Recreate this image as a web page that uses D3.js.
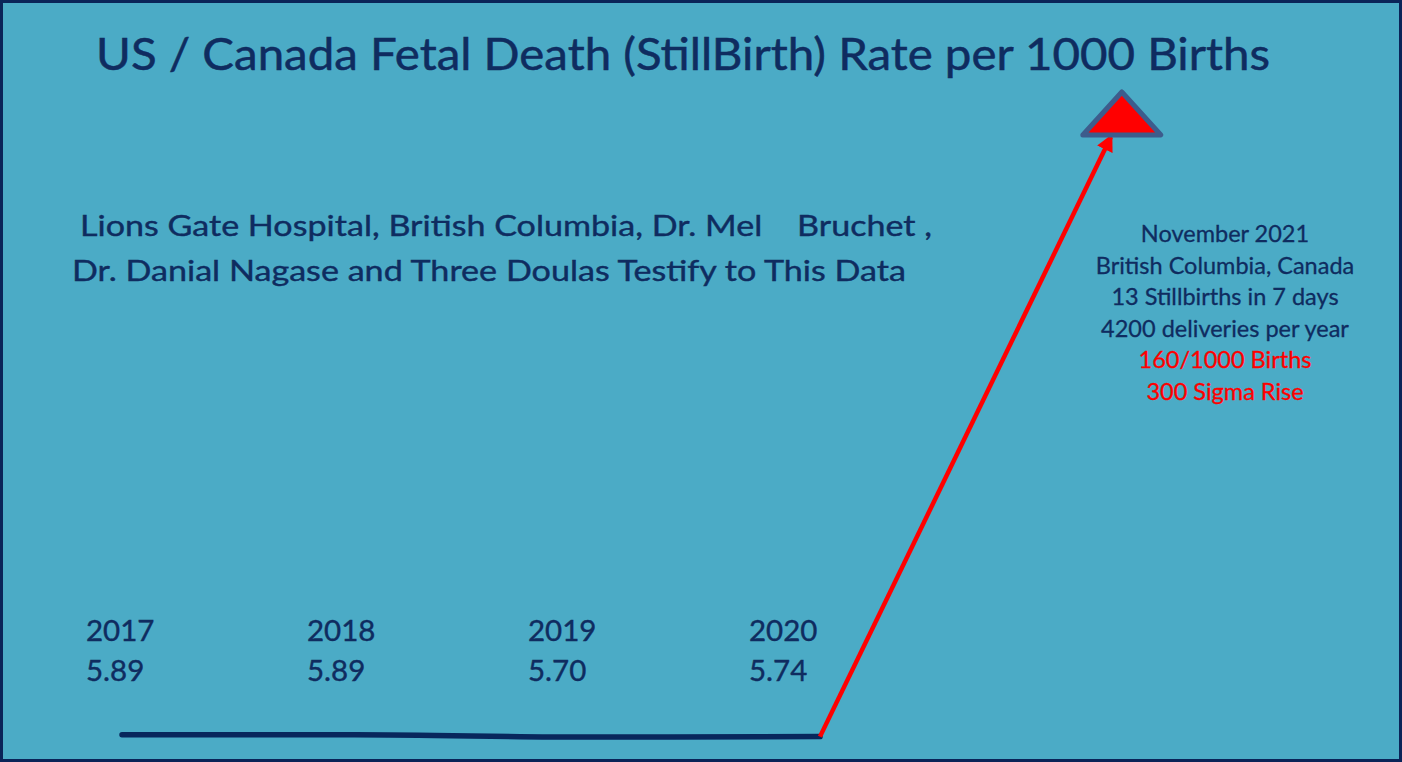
<!DOCTYPE html>
<html>
<head>
<meta charset="utf-8">
<script src="https://cdn.jsdelivr.net/npm/d3@7"></script>
<style>
  html, body { margin: 0; padding: 0; background: #4babc6; }
  svg { display: block; font-family: Lato, "Open Sans", sans-serif; }
</style>
</head>
<body>
<div id="chart"></div>
<script>
// data
const years = [2017, 2018, 2019, 2020];
const rates = [5.89, 5.89, 5.70, 5.74];
const rateLabels = ['5.89', '5.89', '5.70', '5.74'];
const spikeYear = 2021.25;   // where the arrow lands (Nov 2021, drawn schematically)
const spikeRate = 160;
const noteLines = ['November 2021', 'British Columbia, Canada', '13 Stillbirths in 7 days', '4200 deliveries per year'];
const redLines = ['160/1000 Births', '300 Sigma Rise'];

const width = 1402, height = 762;
const navy = '#0f2c60';

const svg = d3.select('#chart')
    .append('svg')
    .attr('width', width)
    .attr('height', height);

svg.append('rect')
    .attr('x', 1.5).attr('y', 1.5)
    .attr('width', width - 3).attr('height', height - 3)
    .attr('fill', '#4babc6')
    .attr('stroke', '#0a2458')
    .attr('stroke-width', 3);

// title
svg.append('text')
    .attr('x', 96).attr('y', 70)
    .attr('fill', navy)
    .attr('stroke', navy).attr('stroke-width', 0.5)
    .attr('font-size', 44)
    .attr('textLength', 1174)
    .attr('lengthAdjust', 'spacingAndGlyphs')
    .text('US / Canada Fetal Death (StillBirth) Rate per 1000 Births');

// source text
const src = svg.append('g')
    .attr('fill', navy)
    .attr('stroke', navy).attr('stroke-width', 0.4)
    .attr('font-size', 29);
src.append('text')
    .attr('x', 80).attr('y', 236)
    .attr('textLength', 852)
    .attr('lengthAdjust', 'spacingAndGlyphs')
    .attr('xml:space', 'preserve')
    .text('Lions Gate Hospital, British Columbia, Dr. Mel    Bruchet ,');
src.append('text')
    .attr('x', 72).attr('y', 281)
    .attr('textLength', 834)
    .attr('lengthAdjust', 'spacingAndGlyphs')
    .text('Dr. Danial Nagase and Three Doulas Testify to This Data');

// scales: the base years sit almost flat, the spike is far up the same axis
const x = d3.scaleLinear()
    .domain([2017, 2020])
    .range([122, 820]);
const y = d3.scaleLinear()
    .domain([5.5, 6.0, 160])
    .range([739.5, 733.5, 137]);
const labelX = d3.scalePoint()
    .domain(years)
    .range([86, 749]);

const base = years.map((yr, i) => ({ year: yr, rate: rates[i] }));

// year / value labels
const lab = svg.append('g')
    .attr('fill', navy)
    .attr('stroke', navy).attr('stroke-width', 0.4)
    .attr('font-size', 29.5);
lab.selectAll('text.yr')
    .data(base)
    .join('text')
    .attr('class', 'yr')
    .attr('x', d => labelX(d.year))
    .attr('y', 641)
    .text(d => d.year);
lab.selectAll('text.val')
    .data(base)
    .join('text')
    .attr('class', 'val')
    .attr('x', d => labelX(d.year))
    .attr('y', 681)
    .text((d, i) => rateLabels[i]);

// flat line for 2017-2020
svg.append('path')
    .datum(base)
    .attr('fill', 'none')
    .attr('stroke', '#08275c')
    .attr('stroke-width', 5.5)
    .attr('stroke-linecap', 'round')
    .attr('d', d3.line()
        .x(d => x(d.year))
        .y(d => y(d.rate))
        .curve(d3.curveMonotoneX));

// red arrow up to the 2021 spike
svg.append('defs').append('marker')
    .attr('id', 'head')
    .attr('viewBox', '0 0 10 10')
    .attr('refX', 8).attr('refY', 5)
    .attr('markerWidth', 3.8).attr('markerHeight', 3.8)
    .attr('orient', 'auto')
    .append('path')
    .attr('d', 'M0,0 L10,5 L0,10 z')
    .attr('fill', '#ff0000');

const last = base[base.length - 1];
svg.append('line')
    .attr('x1', x(last.year)).attr('y1', y(last.rate))
    .attr('x2', x(spikeYear)).attr('y2', y(spikeRate))
    .attr('stroke', '#ff0000')
    .attr('stroke-width', 4.5)
    .attr('marker-end', 'url(#head)');

// triangle sitting on the spike
const tx = x(spikeYear) + 11, ty = y(spikeRate) - 2;
svg.append('path')
    .attr('d', `M${tx - 39},${ty} L${tx},${ty - 43} L${tx + 39},${ty} Z`)
    .attr('fill', '#ff0000')
    .attr('stroke', '#3d5c8c')
    .attr('stroke-width', 5)
    .attr('stroke-linejoin', 'round');

// note on the right
const note = svg.append('g')
    .attr('text-anchor', 'middle')
    .attr('font-size', 23.5);
note.selectAll('text.n')
    .data(noteLines.concat(redLines))
    .join('text')
    .attr('class', 'n')
    .attr('x', 1225)
    .attr('y', (d, i) => 242 + i * 31.6)
    .attr('fill', (d, i) => i < noteLines.length ? navy : '#ff0000')
    .attr('stroke', (d, i) => i < noteLines.length ? navy : '#ff0000')
    .attr('stroke-width', 0.3)
    .text(d => d);
</script>
</body>
</html>
